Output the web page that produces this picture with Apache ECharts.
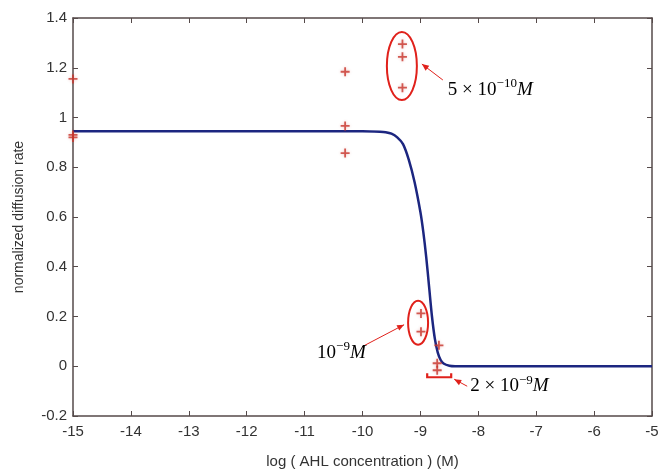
<!DOCTYPE html>
<html><head><meta charset="utf-8">
<script src="https://cdn.jsdelivr.net/npm/echarts@6/dist/echarts.min.js"></script>
<style>html,body{margin:0;padding:0;background:#fff}#c{width:666px;height:474px}</style>
</head><body><div id="c"></div>
<script>
// measured data points (log M, normalized diffusion rate)
const pointsX = [-15, -15, -15, -10.3, -10.3, -10.3, -9.31, -9.31, -9.31, -8.99, -8.99, -8.68, -8.71, -8.71];
const pointsY = [1.155, 0.93, 0.92, 1.184, 0.966, 0.857, 1.295, 1.244, 1.12, 0.2125, 0.139, 0.084, 0.012, -0.016];
// fitted curve
const curveX = [-15, -10, -9.7, -9.6, -9.5, -9.4, -9.3, -9.2, -9.1, -9.0, -8.95, -8.9, -8.85, -8.8, -8.75, -8.7, -8.65, -8.6, -8.5, -8.4, -5];
const curveY = [0.945, 0.945, 0.943, 0.941, 0.935, 0.92, 0.893, 0.83, 0.74, 0.62, 0.54, 0.44, 0.32, 0.2, 0.11, 0.055, 0.025, 0.011, 0.002, 0, 0];
const xTitle = 'log ( AHL concentration ) (M)';
const yTitle = 'normalized diffusion rate';
// annotation anchors in data units
const ellipses = [{x: -9.32, y: 1.207, rx: 15, ry: 34}, {x: -9.04, y: 0.175, rx: 10, ry: 22}];

const chart = echarts.init(document.getElementById('c'), null, {renderer: 'canvas'});
const axisCol = '#554a4a';
const labelStyle = {color: '#333', fontSize: 15, fontFamily: 'Liberation Sans, Arial, sans-serif'};
const starPath = 'path://M4,0h2v4h4v2h-4v4h-2v-4h-4v-2h4z';

chart.setOption({
  animation: false,
  grid: {left: 73, right: 14, top: 18, bottom: 57},
  xAxis: [{
    type: 'value', min: -15, max: -5, interval: 1,
    name: xTitle, nameLocation: 'middle', nameGap: 38,
    nameTextStyle: {color: '#333', fontSize: 15, fontFamily: 'Liberation Sans, Arial, sans-serif'},
    axisLine: {show: true, onZero: false, lineStyle: {color: axisCol, width: 1.5}},
    axisTick: {show: true, inside: true, length: 5, lineStyle: {color: axisCol}},
    axisLabel: Object.assign({margin: 8, showMinLabel: true, showMaxLabel: true}, labelStyle),
    splitLine: {show: false}
  }, {
    type: 'value', min: -15, max: -5, interval: 1, position: 'top',
    axisLine: {show: true, onZero: false, lineStyle: {color: axisCol, width: 1.5}},
    axisTick: {show: true, inside: true, length: 5, lineStyle: {color: axisCol}},
    axisLabel: {show: false}, splitLine: {show: false}
  }],
  yAxis: [{
    type: 'value', min: -0.2, max: 1.4, interval: 0.2,
    name: yTitle, nameLocation: 'middle', nameGap: 47, nameRotate: 90,
    nameTextStyle: {color: '#333', fontSize: 14, fontFamily: 'Liberation Sans, Arial, sans-serif'},
    axisLine: {show: true, onZero: false, lineStyle: {color: axisCol, width: 1.5}},
    axisTick: {show: true, inside: true, length: 5, lineStyle: {color: axisCol}},
    axisLabel: Object.assign({margin: 6}, labelStyle),
    splitLine: {show: false}
  }, {
    type: 'value', min: -0.2, max: 1.4, interval: 0.2, position: 'right',
    axisLine: {show: true, onZero: false, lineStyle: {color: axisCol, width: 1.5}},
    axisTick: {show: true, inside: true, length: 5, lineStyle: {color: axisCol}},
    axisLabel: {show: false}, splitLine: {show: false}
  }],
  series: [{
    type: 'line', data: curveX.map((x, i) => [x, curveY[i]]),
    smooth: 0.3, showSymbol: false, z: 2,
    lineStyle: {color: '#1c2680', width: 2.5}
  }, {
    type: 'scatter', data: pointsX.map((x, i) => [x, pointsY[i]]),
    symbol: starPath, symbolSize: 9, clip: false, z: 3,
    itemStyle: {color: '#c8342c', shadowColor: 'rgba(200,60,50,0.35)', shadowBlur: 3}
  }]
});

function px(x, y) { return chart.convertToPixel({gridIndex: 0}, [x, y]); }
const red = '#e0211b';
const g = [];
ellipses.forEach(e => {
  const p = px(e.x, e.y);
  g.push({type: 'ellipse', shape: {cx: p[0], cy: p[1], rx: e.rx, ry: e.ry}, style: {fill: null, stroke: red, lineWidth: 2}, z: 10});
});
function arrow(x1, y1, x2, y2) {
  g.push({type: 'line', shape: {x1, y1, x2, y2}, style: {stroke: red, lineWidth: 1}, z: 10});
  const a = Math.atan2(y2 - y1, x2 - x1), L = 7, w = 3;
  const bx = x2 - L * Math.cos(a), by = y2 - L * Math.sin(a);
  g.push({type: 'polygon', shape: {points: [[x2, y2], [bx + w * Math.sin(a), by - w * Math.cos(a)], [bx - w * Math.sin(a), by + w * Math.cos(a)]]}, style: {fill: red}, z: 10});
}
// arrows anchored relative to ellipse / data points
const e1 = px(ellipses[0].x, ellipses[0].y), e2 = px(ellipses[1].x, ellipses[1].y);
arrow(e1[0] + 41, e1[1] + 14, e1[0] + 20, e1[1] - 2);
arrow(e2[0] - 56, e2[1] + 24, e2[0] - 14, e2[1] + 2);
const b = px(-8.71, -0.016);
const by0 = b[1] + 7;
g.push({type: 'polyline', shape: {points: [[b[0] - 10, by0 - 4], [b[0] - 10, by0], [b[0] + 14, by0], [b[0] + 14, by0 - 4]]}, style: {stroke: red, lineWidth: 2.2, fill: null}, z: 10});
arrow(b[0] + 30, by0 + 9, b[0] + 17, by0 + 2);

const rich = {
  n: {fontSize: 19, fontFamily: 'Liberation Serif, serif', color: '#222'},
  s: {fontSize: 13, fontFamily: 'Liberation Serif, serif', color: '#222', padding: [0, 0, 12, 0]},
  i: {fontSize: 19, fontFamily: 'Liberation Serif, serif', fontStyle: 'italic', color: '#222'}
};
function label(x, y, txt) {
  g.push({type: 'text', x, y, style: {text: txt, rich, verticalAlign: 'middle', align: 'left'}, z: 10});
}
label(e1[0] + 46, e1[1] + 24, '{n|5 × 10}{s|−10}{i|M}');
label(e2[0] - 101, e2[1] + 30, '{n|10}{s|−9}{i|M}');
label(b[0] + 33, by0 + 9, '{n|2 × 10}{s|−9}{i|M}');
chart.setOption({graphic: g});
</script></body></html>
